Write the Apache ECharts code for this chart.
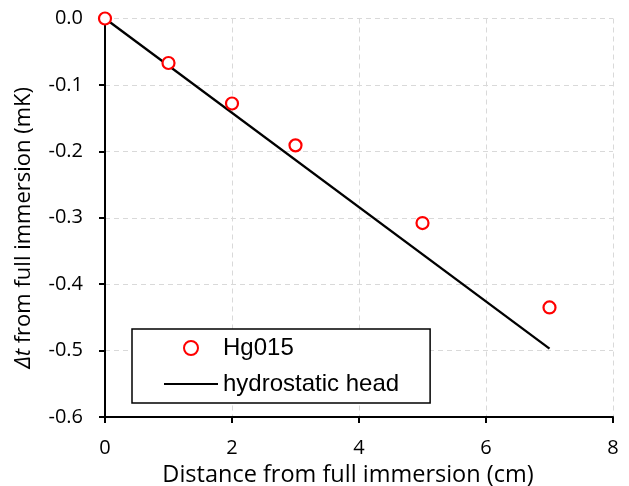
<!DOCTYPE html>
<html>
<head>
<meta charset="utf-8">
<script src="https://cdn.jsdelivr.net/npm/echarts@6/dist/echarts.min.js"></script>
<style>
  html, body { margin: 0; padding: 0; background: #fff; }
  #chart { width: 629px; height: 486px; }
</style>
</head>
<body>
<div id="chart"></div>
<script>
// Measured temperature offset vs. immersion distance
const distanceCm = [0, 1, 2, 3, 5, 7];
const deltaT = [0, -0.067, -0.128, -0.191, -0.308, -0.435];

// Expected hydrostatic-head correction (straight line)
const headDistance = [0, 7];
const headDeltaT = [0, -0.497];

const xTicks = { min: 0, max: 8, interval: 2 };
const yTicks = { min: -0.6, max: 0, interval: 0.1 };

const seriesNames = ['Hg015', 'hydrostatic head'];

const measured = distanceCm.map((d, i) => [d, deltaT[i]]);
const head = headDistance.map((d, i) => [d, headDeltaT[i]]);

const tickFont = { fontFamily: 'Open Sans', fontSize: 20, color: '#000' };
const gridLine = { show: true, lineStyle: { color: '#d9d9d9', width: 1, type: [5, 4] } };

const chart = echarts.init(document.getElementById('chart'), null, { renderer: 'canvas' });
chart.setOption({
  animation: false,
  backgroundColor: '#fff',
  grid: {
    left: 105, right: 16, top: 18.5, bottom: 69,
    containLabel: false,
    outerBoundsMode: 'none'
  },
  xAxis: {
    type: 'value',
    min: xTicks.min, max: xTicks.max, interval: xTicks.interval,
    name: 'Distance from full immersion (cm)',
    nameLocation: 'middle',
    nameGap: 45,
    nameTextStyle: {
      fontFamily: 'Open Sans', fontSize: 23.5, color: '#000', lineHeight: 23,
      padding: [0, 22, 0, 0]
    },
    axisLine: { onZero: false, lineStyle: { color: '#000', width: 2 } },
    axisTick: { show: true, inside: false, length: 6, lineStyle: { color: '#000', width: 2 } },
    axisLabel: Object.assign({ margin: 21 }, tickFont),
    splitLine: gridLine
  },
  yAxis: {
    type: 'value',
    min: yTicks.min, max: yTicks.max, interval: yTicks.interval,
    name: '{i|Δt} from full immersion (mK)',
    nameLocation: 'middle',
    nameGap: 70,
    nameTextStyle: {
      fontFamily: 'Open Sans', fontSize: 22, color: '#000', lineHeight: 23,
      padding: [0, 20, 0, 0],
      rich: { i: { fontFamily: 'Open Sans', fontSize: 22, fontStyle: 'italic', color: '#000' } }
    },
    axisLine: { show: true, onZero: false, lineStyle: { color: '#000', width: 2 } },
    axisTick: { show: true, inside: false, length: 6, lineStyle: { color: '#000', width: 2 } },
    axisLabel: Object.assign({ margin: 22, formatter: v => v.toFixed(1) }, tickFont),
    splitLine: gridLine
  },
  legend: {
    data: [
      { name: seriesNames[0] },
      { name: seriesNames[1], itemStyle: { opacity: 0 } }
    ],
    orient: 'vertical',
    left: 132,
    top: 329,
    padding: [6, 31, 6, 31],
    itemWidth: 54,
    itemHeight: 14,
    itemGap: 10,
    backgroundColor: '#fff',
    borderColor: '#000',
    borderWidth: 1.5,
    borderRadius: 0,
    textStyle: { fontFamily: 'Liberation Sans', fontSize: 24, color: '#000', lineHeight: 26 }
  },
  series: [
    {
      name: seriesNames[1],
      type: 'line',
      data: head,
      showSymbol: false,
      symbol: 'none',
      lineStyle: { color: '#000', width: 2.3 },
      itemStyle: { color: '#000' },
      z: 2
    },
    {
      name: seriesNames[0],
      type: 'scatter',
      data: measured,
      symbol: 'circle',
      symbolSize: 12,
      itemStyle: { color: '#fff', borderColor: '#ff0000', borderWidth: 2.2, opacity: 1 },
      z: 3
    }
  ]
});
</script>
</body>
</html>
